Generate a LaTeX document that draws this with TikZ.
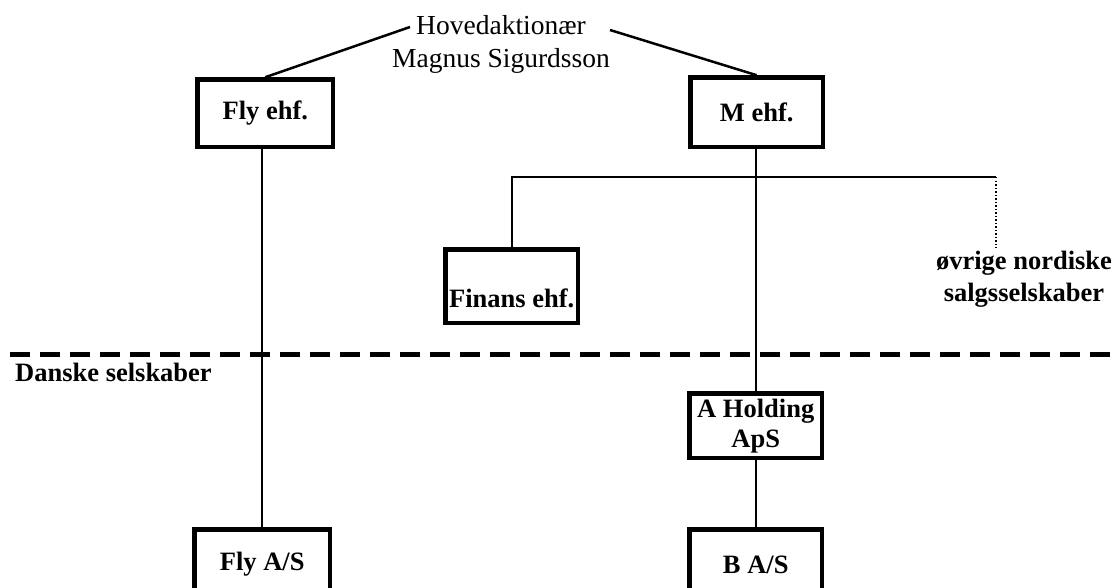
\documentclass[tikz,border=0pt]{standalone}
\usepackage{fontspec}
\setmainfont{Liberation Serif}
\begin{document}
\begin{tikzpicture}[x=1pt,y=-1pt,
  box/.style={draw, line width=4.5pt, inner sep=0pt, anchor=north west,
    font=\bfseries\fontsize{26.5}{30}\selectfont, align=center},
  link/.style={line width=2pt},
  slant/.style={line width=2.5pt},
  plaintext/.style={font=\fontsize{27.5}{33}\selectfont, align=center, inner sep=0pt},
  boldtext/.style={font=\bfseries\fontsize{26.5}{32}\selectfont, align=center, inner sep=3pt},
  sep/.style={line width=5pt, dash pattern=on 20pt off 10pt}]
\useasboundingbox (0,0) rectangle (1115,588);
\clip (0,0) rectangle (1115,588);

% top shareholder
\node[plaintext] (hoved) at (501,44) {Hovedaktionær\\Magnus Sigurdsson};
\coordinate (hl) at (410,27);
\coordinate (hr) at (610,30);

% boxes
\node[box, minimum width=135.5pt, minimum height=67.5pt] (flyehf) at (195.25,77.25) {Fly ehf.};
\node[box, minimum width=132.5pt, minimum height=69.5pt] (mehf) at (688.25,75.25) {M ehf.};
\node[box, minimum width=132.5pt, minimum height=73.5pt, text height=58pt, text depth=15.5pt] (finans) at (443.25,247.25) {Finans ehf.};
\node[box, minimum width=132.5pt, minimum height=64.5pt] (aholding) at (687.25,391.25) {A Holding\\ApS};
\node[box, minimum width=132.5pt, minimum height=70pt] (bas) at (687.25,527.25) {B A/S};
\node[box, minimum width=135.5pt, minimum height=70pt] (flyas) at (192.25,527.25) {Fly A/S};

\node[boldtext] (ovrige) at (1024,279) {øvrige nordiske\\salgsselskaber};
\node[boldtext, anchor=west, inner sep=0pt] (danske) at (15,372) {Danske selskaber};

% separator
\draw[sep] (10,354) -- (1115,354);

% connectors
\draw[slant] (hl) -- (flyehf.north);
\draw[slant] (hr) -- (mehf.north);
\draw[link] (flyas.north) -- (flyas.north |- flyehf.south);
\draw[link] (aholding.north) -- (aholding.north |- mehf.south);
\draw[link] (aholding.south) -- (bas.north);
\coordinate (barR) at (996,177);
\draw[link] (finans.north) |- (barR);
\draw[line width=1.5pt, dotted] (barR) -- (barR |- ovrige.north);
\end{tikzpicture}
\end{document}
